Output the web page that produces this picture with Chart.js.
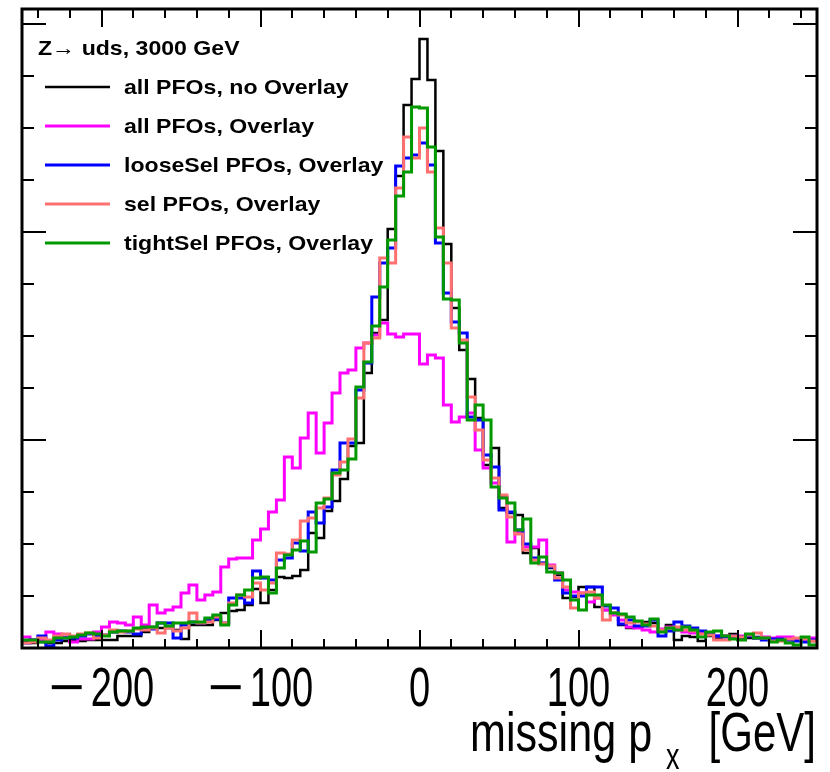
<!DOCTYPE html>
<html>
<head>
<meta charset="utf-8">
<script src="https://cdn.jsdelivr.net/npm/chart.js@4.4.0/dist/chart.umd.min.js"></script>
<style>
  html, body { margin: 0; padding: 0; background: #fff; }
  canvas { display: block; }
</style>
</head>
<body>
<canvas id="grafico" width="830" height="772"></canvas>
<script>
// histograma: 100 bins de 5 GeV, de -250 a 250
const xMin = -250;
const xMax = 250;
const larguraBin = 5;

const rotulos = [
  "all PFOs, no Overlay",
  "all PFOs, Overlay",
  "looseSel PFOs, Overlay",
  "sel PFOs, Overlay",
  "tightSel PFOs, Overlay"
];
const cores = ["#000000", "#ff00ff", "#0000ff", "#ff7070", "#009900"];

const semOverlay = [
  6, 5, 6, 5, 5, 7, 8, 7, 8, 8,
  8, 8, 12, 12, 12, 16, 21, 20, 20, 18,
  9, 23, 23, 23, 28, 35, 37, 38, 43, 59,
  45, 58, 71, 70, 72, 78, 115, 110, 137, 147,
  169, 202, 205, 275, 315, 328, 419, 472, 543, 569,
  609, 568, 497, 404, 340, 298, 269, 230, 183, 200,
  140, 135, 133, 95, 100, 85, 80, 73, 50, 51,
  61, 61, 41, 38, 35, 23, 20, 21, 26, 25,
  18, 23, 8, 12, 11, 7, 12, 10, 12, 14,
  9, 10, 11, 9, 8, 9, 8, 9, 8, 7
];
const todosOverlay = [
  11, 8, 8, 16, 14, 11, 6, 9, 9, 16,
  21, 26, 25, 23, 31, 23, 43, 35, 38, 41,
  55, 63, 48, 53, 56, 81, 89, 90, 90, 108,
  119, 136, 148, 191, 180, 210, 235, 195, 225, 255,
  275, 278, 300, 305, 313, 325, 314, 311, 314, 314,
  284, 293, 290, 243, 226, 231, 235, 198, 180, 165,
  151, 106, 116, 101, 101, 108, 83, 75, 58, 56,
  55, 46, 50, 38, 33, 28, 21, 20, 18, 16,
  19, 21, 18, 16, 15, 15, 14, 12, 12, 11,
  12, 13, 10, 11, 10, 11, 11, 9, 8, 10
];
const looseSel = [
  5, 8, 12, 2, 8, 10, 10, 12, 14, 12,
  13, 16, 17, 16, 14, 20, 19, 25, 25, 10,
  23, 26, 25, 28, 29, 25, 50, 50, 45, 77,
  70, 68, 88, 90, 105, 97, 136, 125, 141, 178,
  205, 205, 258, 285, 351, 385, 400, 482, 490, 493,
  505, 483, 405, 355, 326, 315, 231, 228, 193, 181,
  138, 136, 118, 104, 90, 85, 81, 68, 55, 52,
  52, 61, 61, 42, 40, 24, 28, 22, 22, 28,
  12, 17, 26, 22, 20, 17, 14, 12, 11, 12,
  11, 12, 10, 8, 9, 9, 8, 7, 6, 8
];
const sel = [
  5, 6, 10, 8, 12, 14, 12, 14, 15, 10,
  13, 18, 16, 17, 19, 18, 20, 15, 20, 17,
  20, 35, 25, 26, 31, 25, 45, 53, 51, 65,
  58, 65, 95, 94, 108, 127, 130, 140, 150, 173,
  186, 209, 250, 305, 310, 390, 385, 460, 511, 490,
  520, 476, 420, 385, 320, 308, 251, 218, 188, 170,
  153, 131, 114, 98, 88, 84, 82, 70, 61, 40,
  55, 56, 50, 28, 35, 33, 25, 26, 24, 22,
  18, 20, 21, 18, 17, 14, 13, 8, 8, 12,
  11, 13, 15, 10, 7, 7, 9, 10, 9, 7
];
const tightSel = [
  8, 8, 6, 6, 10, 10, 11, 13, 15, 14,
  12, 16, 17, 17, 20, 21, 21, 25, 22, 25,
  25, 26, 26, 30, 33, 23, 43, 53, 58, 70,
  71, 55, 80, 93, 98, 107, 96, 145, 149, 175,
  178, 189, 261, 286, 322, 361, 408, 452, 476, 541,
  540, 501, 411, 349, 348, 305, 228, 243, 228, 161,
  150, 145, 118, 129, 85, 91, 76, 75, 68, 48,
  38, 53, 53, 43, 35, 34, 31, 27, 23, 29,
  16, 20, 18, 21, 18, 11, 16, 17, 12, 9,
  8, 14, 10, 10, 6, 8, 5, 3, 11, 3
];
const series = [semOverlay, todosOverlay, looseSel, sel, tightSel];

const ticksX = [-200, -100, 0, 100, 200];
const ticksXMenores = [-240, -220, -180, -160, -140, -120, -80, -60, -40, -20,
  20, 40, 60, 80, 120, 140, 160, 180, 220, 240];
const yMax = 639;
const passoY = 52;

const tituloLegenda = "Z\u2192 uds, 3000 GeV";

// pontos nas bordas esquerdas dos bins + borda final
function pontosHist(valores) {
  const pts = valores.map((v, i) => ({ x: xMin + i * larguraBin, y: v }));
  pts.push({ x: xMin + valores.length * larguraBin, y: valores[valores.length - 1] });
  return pts;
}

function textoEstreito(ctx, txt, x, y, escala, align) {
  ctx.save();
  ctx.translate(x, y);
  ctx.scale(escala, 1);
  ctx.textAlign = align;
  ctx.fillText(txt, 0, 0);
  ctx.restore();
}

// rotulo do eixo x com sinal de menos separado (como no ROOT)
function rotuloTick(ctx, v, xc, y) {
  const escDig = 0.68;
  const digitos = String(Math.abs(v));
  const wd = ctx.measureText(digitos).width * escDig;
  if (v >= 0) {
    textoEstreito(ctx, digitos, xc, y, escDig, "center");
    return;
  }
  const wm = ctx.measureText("\u2212").width * 1.1;
  const gap = 6;
  const x0 = xc - (wm + gap + wd) / 2;
  textoEstreito(ctx, "\u2212", x0, y, 1.1, "left");
  textoEstreito(ctx, digitos, x0 + wm + gap, y, escDig, "left");
}

const moldura = {
  id: "moldura",
  afterDraw(chart) {
    const ctx = chart.ctx;
    const a = chart.chartArea;
    const sx = chart.scales.x;
    const sy = chart.scales.y;
    ctx.save();
    ctx.strokeStyle = "#000";
    ctx.lineCap = "butt";

    // ticks do eixo x (baixo e cima, para dentro)
    ctx.lineWidth = 2;
    ctx.beginPath();
    for (const v of ticksX.concat(ticksXMenores)) {
      const px = Math.round(sx.getPixelForValue(v));
      const len = ticksX.includes(v) ? 18 : 9;
      ctx.moveTo(px, a.bottom);
      ctx.lineTo(px, a.bottom - len);
      ctx.moveTo(px, a.top);
      ctx.lineTo(px, a.top + len);
    }
    // ticks do eixo y (esquerda e direita)
    for (let v = passoY; v < yMax; v += passoY) {
      const py = Math.round(sy.getPixelForValue(v));
      const len = (v % (4 * passoY) === 0) ? 24 : 12;
      ctx.moveTo(a.left, py);
      ctx.lineTo(a.left + len, py);
      ctx.moveTo(a.right, py);
      ctx.lineTo(a.right - len, py);
    }
    ctx.stroke();

    ctx.lineWidth = 3;
    ctx.strokeRect(a.left, a.top, a.right - a.left, a.bottom - a.top);

    // rotulos do eixo x
    ctx.fillStyle = "#000";
    ctx.textBaseline = "alphabetic";
    ctx.font = "56px 'Liberation Sans', Arial, sans-serif";
    for (const v of ticksX) {
      rotuloTick(ctx, v, sx.getPixelForValue(v), 706);
    }

    // titulo do eixo x: missing p_x [GeV]
    const fGrande = "56px 'Liberation Sans', Arial, sans-serif";
    const fSub = "36px 'Liberation Sans', Arial, sans-serif";
    ctx.font = fGrande;
    const w1 = ctx.measureText("missing p").width * 0.77;
    const x0 = 470;
    textoEstreito(ctx, "missing p", x0, 751, 0.77, "left");
    textoEstreito(ctx, "[GeV]", 816, 751, 0.75, "right");
    ctx.font = fSub;
    textoEstreito(ctx, "x", x0 + w1 + 14, 769, 0.75, "left");

    // legenda
    ctx.textBaseline = "middle";
    ctx.font = "bold 21px 'Liberation Sans', Arial, sans-serif";
    textoEstreito(ctx, tituloLegenda, 38, 49, 1.1, "left");
    rotulos.forEach((r, i) => {
      const y = 87 + i * 39;
      ctx.strokeStyle = cores[i];
      ctx.lineWidth = i === 0 ? 2.5 : 3;
      ctx.beginPath();
      ctx.moveTo(45, y);
      ctx.lineTo(110, y);
      ctx.stroke();
      ctx.fillStyle = "#000";
      textoEstreito(ctx, r, 124, y + 1, 1.1, "left");
    });
    ctx.restore();
  }
};

const ctx = document.getElementById("grafico").getContext("2d");
new Chart(ctx, {
  type: "line",
  data: {
    datasets: series.map((s, i) => ({
      label: rotulos[i],
      data: pontosHist(s),
      borderColor: cores[i],
      borderWidth: i === 0 ? 2.5 : 3,
      stepped: true,
      pointRadius: 0,
      fill: false,
      tension: 0,
      borderJoinStyle: "miter",
      order: series.length - i
    }))
  },
  options: {
    responsive: false,
    animation: false,
    devicePixelRatio: 1,
    layout: { padding: { left: 22, right: 13, top: 9, bottom: 124 } },
    scales: {
      x: { type: "linear", min: xMin, max: xMax, display: false },
      y: { type: "linear", min: 0, max: yMax, display: false }
    },
    plugins: {
      legend: { display: false },
      tooltip: { enabled: false }
    }
  },
  plugins: [moldura]
});
</script>
</body>
</html>
